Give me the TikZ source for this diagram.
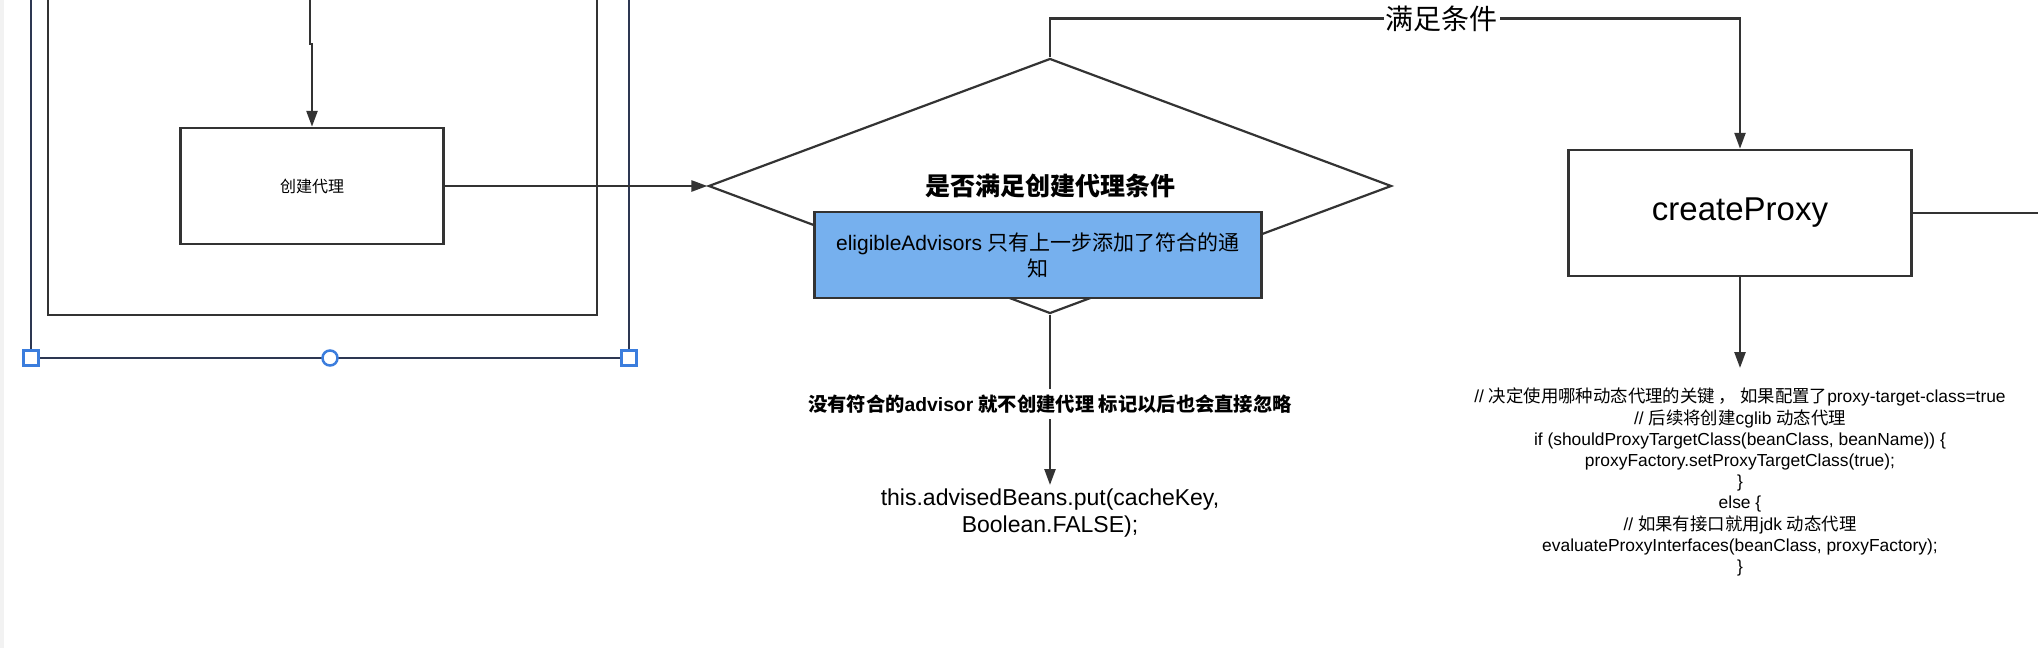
\documentclass[tikz,border=0pt]{standalone}
\usepackage{fontspec}
\setmainfont{Liberation Sans}
\newfontfamily\cjk{Noto Sans CJK SC}
\usepackage{tikz}
\usetikzlibrary{arrows.meta,shapes.geometric}
\definecolor{ink}{RGB}{51,51,51}
\definecolor{notefill}{RGB}{118,176,238}
\definecolor{selframe}{RGB}{45,55,82}
\definecolor{selglow}{RGB}{100,140,210}
\definecolor{selhandle}{RGB}{59,125,221}
\definecolor{sidebar}{RGB}{242,242,242}

\begin{document}
\begin{tikzpicture}[x=1pt,y=-1pt,
  flowline/.style={draw=ink,line width=2.5pt},
  arr/.style={flowline,-{Triangle[length=16pt,width=11pt]}},
  procbox/.style={draw=ink,line width=2.5pt,fill=white,rectangle,inner sep=0pt},
  decision/.style={draw=ink,line width=2.2pt,diamond,aspect=2.68,inner sep=0pt},
  edgetag/.style={fill=white,inner sep=2pt},
  grip/.style={draw=selhandle,line width=2.5pt,fill=white,inner sep=0pt,minimum size=15pt}]
\useasboundingbox[fill=white] (0,0) rectangle (2038,648);
\fill[sidebar] (0,0) rectangle (4,648);
\draw[selglow,line width=2.8pt] (31,0) -- (31,358) -- (629,358) -- (629,0);
\draw[selframe,line width=2pt] (31,0) -- (31,358) -- (629,358) -- (629,0);
\draw[ink,line width=2.5pt] (48,0) -- (48,315) -- (597,315) -- (597,0);
\node[grip] (gripl) at (31,358) {};
\node[grip] (gripr) at (629,358) {};
\node[grip,circle] (gripm) at (330,358) {};

\node[procbox,minimum width=263pt,minimum height=116pt,font=\fontsize{16}{20}\selectfont] (createbox) at (312,186) {\cjk 创建代理};
\coordinate (topin) at (310,0);
\draw[arr] (topin) -- ++(0,44) -| (createbox.north);

\node[decision,minimum width=683pt,minimum height=255pt,font=\fontsize{25}{30}\selectfont] (cond) at (1050,186) {\cjk\bfseries 是否满足创建代理条件};
\node[procbox,fill=notefill,minimum width=447pt,minimum height=86pt,align=center,font=\fontsize{21}{26}\selectfont] (note) at (1038,255) {eligibleAdvisors {\cjk 只有上一步添加了符合的通}\\{\cjk 知}};
\draw[arr] (createbox.east) -- (cond.west);

\node[align=center,anchor=north,inner sep=4pt,font=\fontsize{23}{27}\selectfont] (result) at (1050,485) {this.advisedBeans.put(cacheKey,\\Boolean.FALSE);};
\draw[arr] (cond.south) -- node[edgetag,pos=.523,inner xsep=4pt,inner ysep=5.5pt,font=\fontsize{19.3}{23}\selectfont\bfseries]{{\cjk 没有符合的}advisor {\cjk 就不创建代理 标记以后也会直接忽略}} (result.north);

\node[procbox,minimum width=343pt,minimum height=126pt,font=\fontsize{33}{40}\selectfont] (proxy) at (1740,213) {createProxy};
\draw[arr] (cond.north) -- ++(0,-39) -| node[edgetag,pos=.284,font=\fontsize{28}{34}\selectfont]{\cjk 满足条件} (proxy.north);
\coordinate (rightedge) at (2038,213);
\draw[flowline] (proxy.east) -- (rightedge);

\node[align=center,anchor=north,inner xsep=0pt,inner ysep=20pt,font=\fontsize{17.4}{21.2}\selectfont] (code) at (1740,368) {// {\cjk 决定使用哪种动态代理的关键 ， 如果配置了}proxy-target-class=true\\
// {\cjk 后续将创建}cglib {\cjk 动态代理}\\
if (shouldProxyTargetClass(beanClass, beanName)) \{\\
proxyFactory.setProxyTargetClass(true);\\
\}\\
else \{\\
// {\cjk 如果有接口就用}jdk {\cjk 动态代理}\\
evaluateProxyInterfaces(beanClass, proxyFactory);\\
\}};
\draw[arr] (proxy.south) -- (code.north);
\end{tikzpicture}
\end{document}
